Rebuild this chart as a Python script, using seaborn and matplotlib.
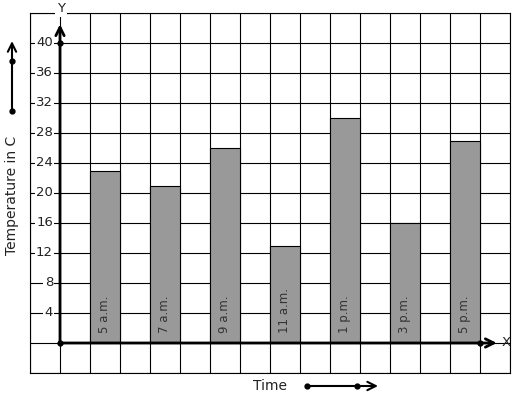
import numpy as np
import pandas as pd
import matplotlib
matplotlib.use("Agg")
import matplotlib.pyplot as plt
import seaborn as sns

times = ["5 a.m.", "7 a.m.", "9 a.m.", "11 a.m.", "1 p.m.", "3 p.m.", "5 p.m."]
temps = [23, 21, 26, 13, 30, 16, 27]
ytick_vals = [4, 8, 12, 16, 20, 24, 28, 32, 36, 40]

df = pd.DataFrame({"time": times, "temp": temps})

sns.set_style("white")
plt.rcParams["font.family"] = ["DejaVu Sans"]

fig = plt.figure(figsize=(5.17, 3.99), dpi=100)
ax = fig.add_axes([30 / 517, 26 / 399, 480 / 517, 360 / 399])

sns.barplot(data=df, x="time", y="temp", color="#999999", edgecolor="black",
            linewidth=0.8, width=0.5, saturation=1, ax=ax, zorder=3)

ax.set_xlim(-1.25, 6.75)
ax.set_ylim(-4, 44)
ax.set_xticks(np.arange(-1.25, 6.76, 0.5))
ax.set_yticks(np.arange(-4, 44.1, 4))
ax.set_xticklabels([])
ax.set_yticklabels([])
ax.tick_params(length=0)
ax.grid(True, color="black", linewidth=0.8, zorder=0)
ax.set_axisbelow(True)
for s in ax.spines.values():
    s.set_color("black")
    s.set_linewidth(0.8)
ax.set_xlabel("")
ax.set_ylabel("")

x0 = -0.75
# y tick labels with white background
for v in ytick_vals:
    ax.annotate(str(v), xy=(x0, v), xytext=(-5, 0), textcoords="offset points",
                ha="right", va="center", fontsize=9.5, color="#222222", zorder=5,
                bbox=dict(boxstyle="square,pad=0.1", fc="white", ec="none"))

# bar labels
for i, t in enumerate(times):
    ax.annotate(t, xy=(i, 0), xytext=(0, 7), textcoords="offset points",
                rotation=90, ha="center", va="bottom", fontsize=8.5,
                color="#333333", zorder=5)

# axes with arrows
arrow = dict(arrowstyle="->,head_length=0.6,head_width=0.3", color="black", lw=2,
             shrinkA=0, shrinkB=0)
ax.annotate("", xy=(x0, 42.5), xytext=(x0, 0), arrowprops=arrow,
            annotation_clip=False, zorder=6)
ax.annotate("", xy=(6.53, 0), xytext=(x0, 0), arrowprops=arrow,
            annotation_clip=False, zorder=6)
ax.plot([x0, x0, 6.25], [0, 40, 0], "o", color="black", ms=3.5, zorder=7, clip_on=False)
ax.text(6.68, 0, "X", ha="center", va="center", fontsize=9.5, color="#222222")
ax.text(x0 + 0.02, 44.6, "Y", ha="center", va="center", fontsize=9.5, color="#222222",
        bbox=dict(boxstyle="square,pad=0.15", fc="white", ec="none"), zorder=6)

# outer labels
fig.text(12 / 517, 0.51, "Temperature in C", rotation=90, ha="center", va="center",
         fontsize=10, color="#222222")
fig.text(270 / 517, 13 / 399, "Time", ha="center", va="center", fontsize=10,
         color="#222222")

farrow = dict(arrowstyle="->,head_length=0.6,head_width=0.3", color="black", lw=1.5,
              shrinkA=0, shrinkB=0)
ax.annotate("", xy=(12 / 517, 0.897), xytext=(12 / 517, 0.722),
            xycoords="figure fraction", textcoords="figure fraction", arrowprops=farrow)
ax.annotate("", xy=(378 / 517, 0.0326), xytext=(307 / 517, 0.0326),
            xycoords="figure fraction", textcoords="figure fraction", arrowprops=farrow)
fig.lines.append(plt.Line2D([12 / 517, 12 / 517], [0.722, 0.847], marker="o", ls="none",
                            color="black", ms=3.5, transform=fig.transFigure))
fig.lines.append(plt.Line2D([307 / 517, 357 / 517], [0.0326, 0.0326], marker="o", ls="none",
                            color="black", ms=3.5, transform=fig.transFigure))

fig.savefig("out.png", dpi=100)
